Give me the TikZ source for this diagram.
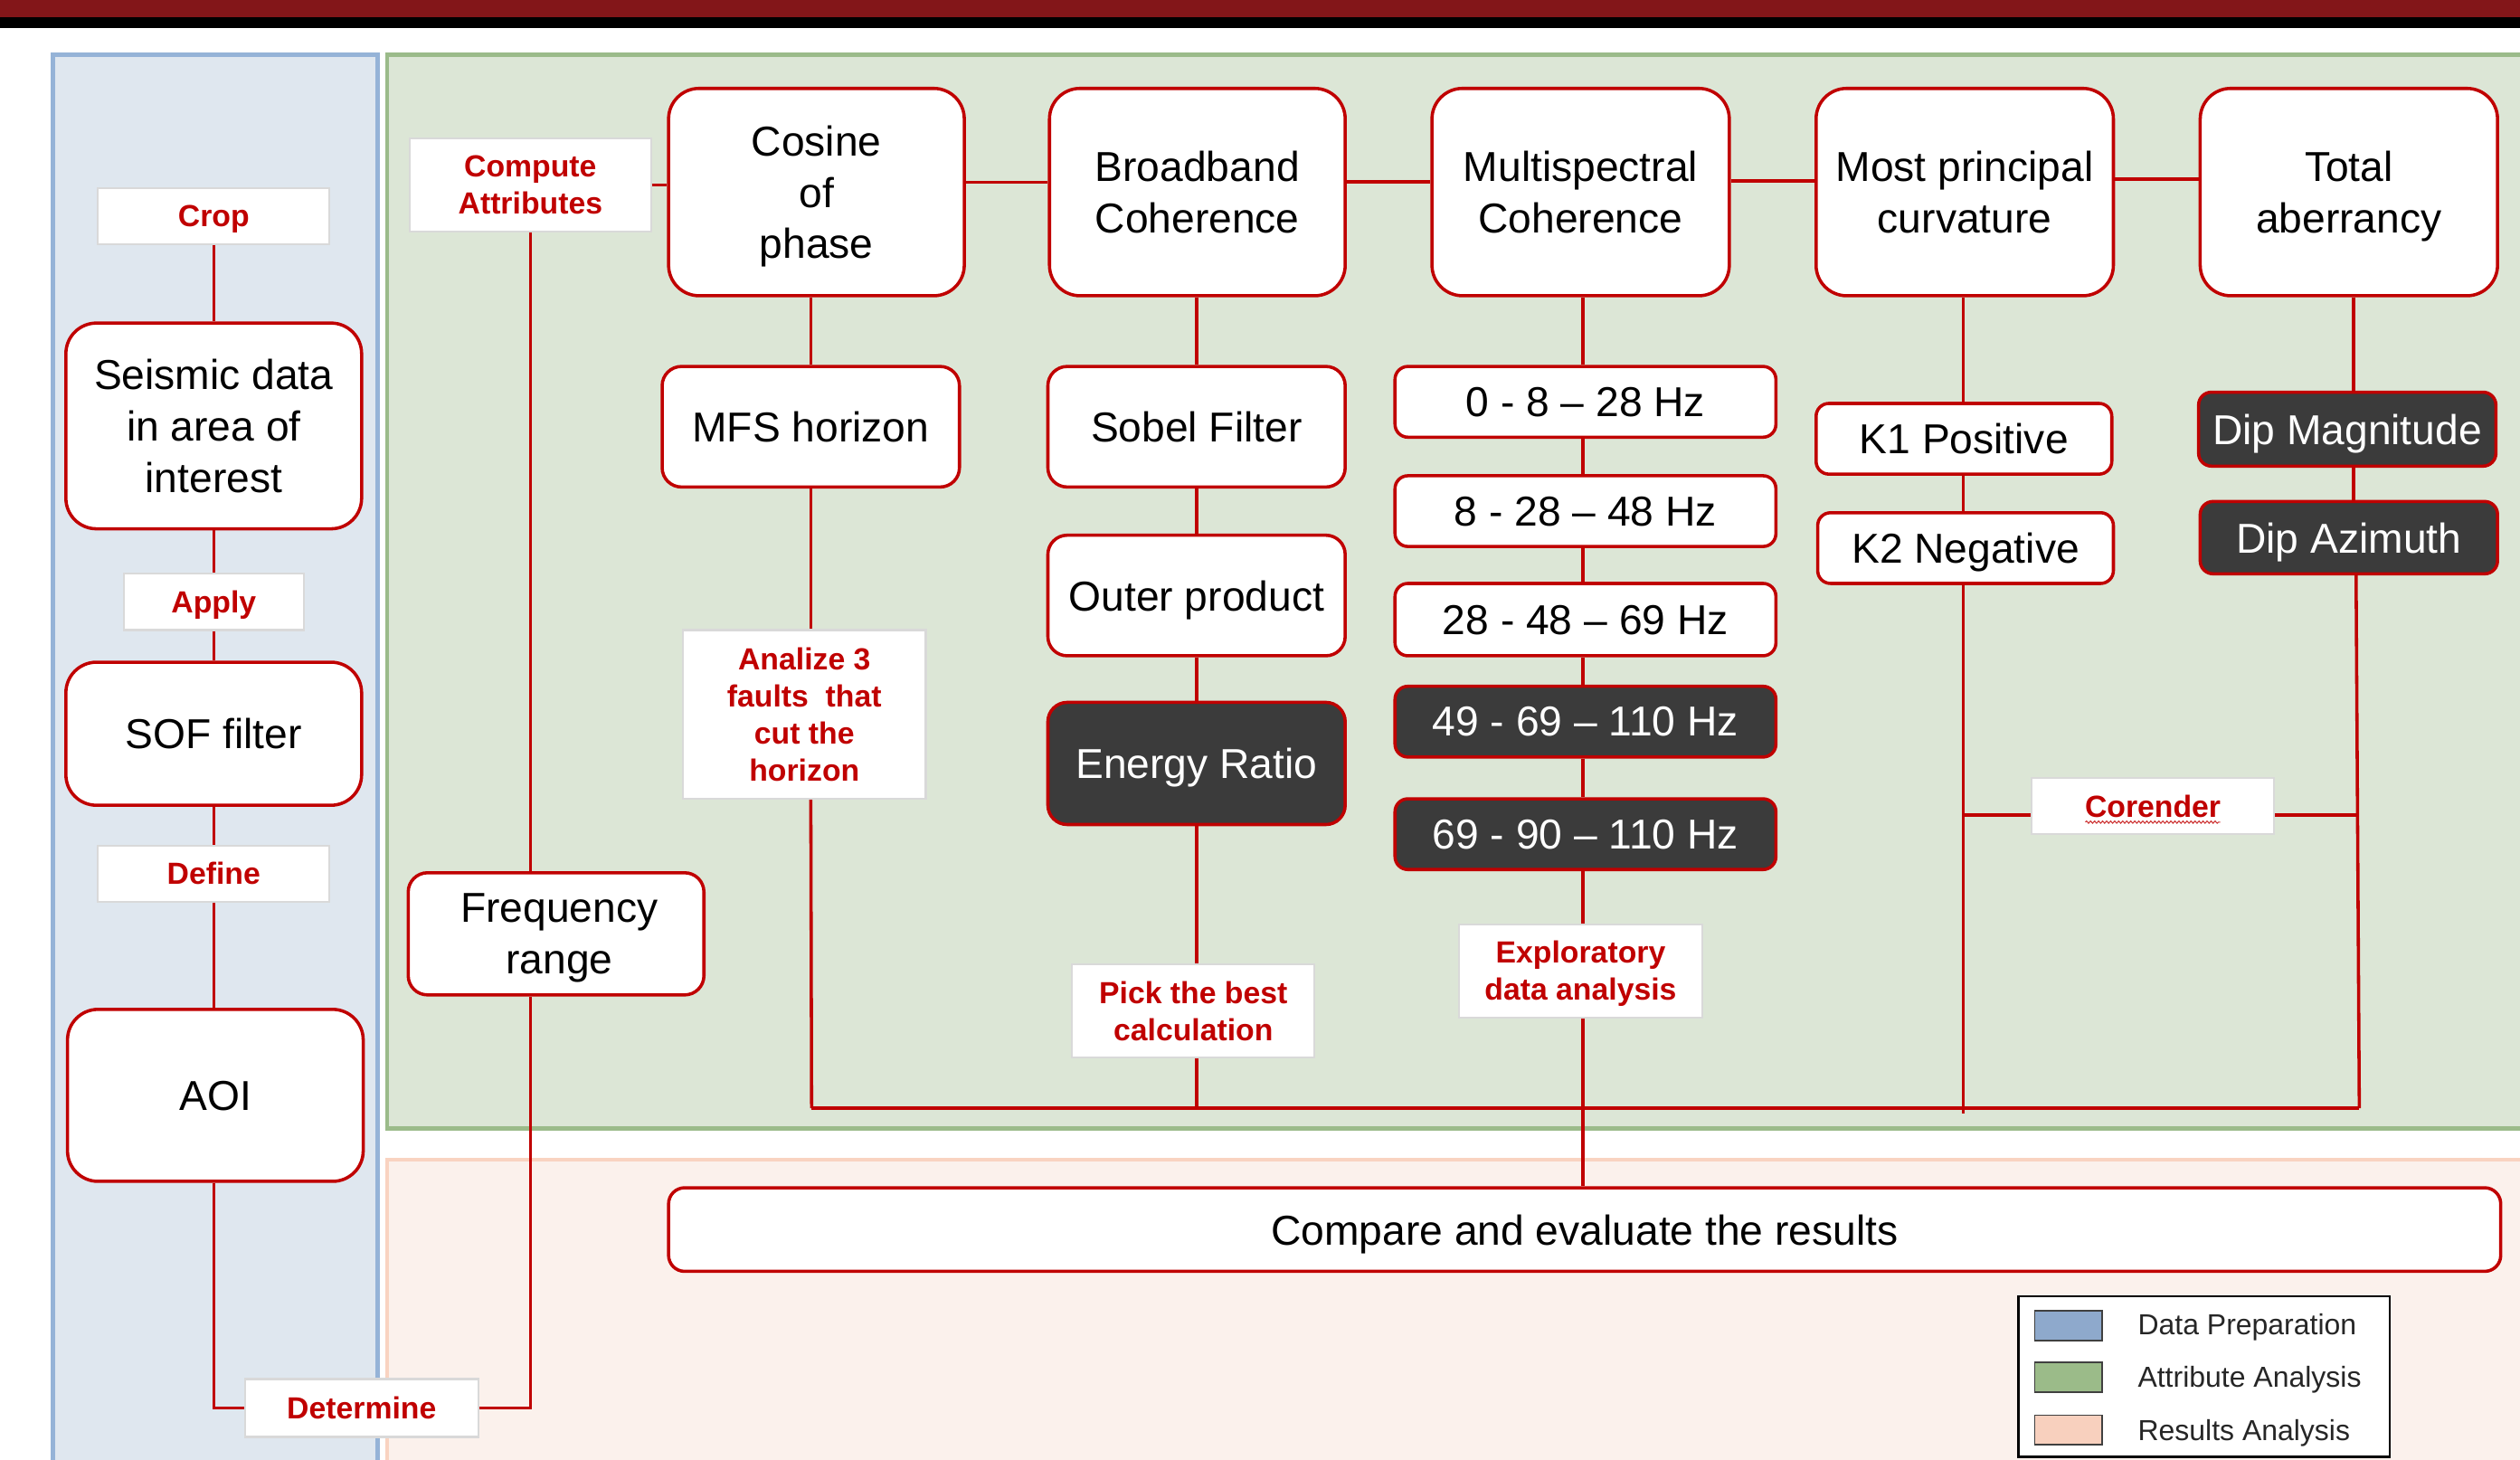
\documentclass[tikz,border=0pt]{standalone}
\usepackage{fontspec}
\setmainfont{Liberation Sans}
\usetikzlibrary{decorations.pathmorphing}
\definecolor{myred}{HTML}{C00000}
\definecolor{barred}{HTML}{831619}
\definecolor{bluebg}{HTML}{DFE7EF}
\definecolor{bluebd}{HTML}{95B3D7}
\definecolor{greenbg}{HTML}{DCE6D6}
\definecolor{greenbd}{HTML}{9BBB8A}
\definecolor{peachbg}{HTML}{FBF1EC}
\definecolor{peachbd}{HTML}{F9D3C1}
\definecolor{darkfill}{HTML}{3B3B3B}
\definecolor{lblbd}{HTML}{D9D9D9}
\definecolor{swblue}{HTML}{8EA9CC}
\definecolor{swgreen}{HTML}{9BBB89}
\definecolor{swpeach}{HTML}{F8D0BE}
\tikzset{
  bigbox/.style={draw=myred, line width=2pt, fill=white, rounded corners=19pt, align=center,
    inner sep=0pt, text depth=0pt, font=\fontsize{26}{32}\selectfont},
  midbox/.style={bigbox, rounded corners=12pt},
  smallbox/.style={bigbox, rounded corners=8pt},
  darkbox/.style={smallbox, fill=darkfill, text=white},
  lbl/.style={draw=lblbd, line width=1.2pt, fill=white, align=center, inner sep=0pt, text depth=0pt,
    text=myred, font=\fontsize{19}{23}\selectfont\bfseries},
  conn/.style={draw=myred, line width=2pt},
  legtext/.style={anchor=west, inner sep=0pt, text depth=0pt, text=black!85, font=\fontsize{18}{22}\selectfont},
  swatch/.style={draw=black!75, line width=1pt}
}
\begin{document}
\begin{tikzpicture}[x=1pt,y=-1pt]
\useasboundingbox (0,0) rectangle (1568,908);
\clip (0,0) rectangle (1568,908);
\fill[white] (0,0) rectangle (1568,908);
% top bars
\fill[barred] (0,0) rectangle (1568,10.7);
\fill[black] (0,10.7) rectangle (1568,17.4);
% panels
\draw[draw=bluebd, fill=bluebg, line width=2.5pt] (33,34) rectangle (235,930);
\draw[draw=greenbd, fill=greenbg, line width=2.5pt] (241,34) rectangle (1590,702);
\draw[draw=peachbd, fill=peachbg, line width=2.5pt] (241,721.5) rectangle (1590,930);

% left column
\node[lbl, minimum width=144pt, minimum height=35pt] (crop) at (133,134.5) {Crop};
\node[bigbox, minimum width=184pt, minimum height=128pt] (seis) at (133,265) {Seismic data\\in area of\\interest};
\node[lbl, minimum width=112pt, minimum height=35pt] (apply) at (133,374.5) {Apply};
\node[bigbox, minimum width=184pt, minimum height=89pt] (sof) at (133,456.5) {SOF filter};
\node[lbl, minimum width=144pt, minimum height=35pt] (define) at (133,543.5) {Define};
\node[bigbox, minimum width=184pt, minimum height=107pt] (aoi) at (134,681.5) {AOI};
\node[lbl, minimum width=145pt, minimum height=36pt] (det) at (225,876) {Determine};
\node[midbox, minimum width=184pt, minimum height=76pt] (freq) at (346,581) {\hspace*{4pt}Frequency\\\hspace*{4pt}range};
\node[lbl, minimum width=150pt, minimum height=58pt] (comp) at (330,115) {Compute\\Attributes};

% top row
\node[bigbox, minimum width=184pt, minimum height=129pt] (cos) at (508,119.5) {Cosine\\of\\phase};
\node[bigbox, minimum width=184pt, minimum height=129pt] (bb) at (745,119.5) {Broadband\\Coherence};
\node[bigbox, minimum width=185pt, minimum height=129pt] (ms) at (983.5,119.5) {Multispectral\\Coherence};
\node[bigbox, minimum width=185pt, minimum height=129pt] (mp) at (1222.5,119.5) {Most principal\\curvature};
\node[bigbox, minimum width=185pt, minimum height=129pt] (ta) at (1461.5,119.5) {Total\\aberrancy};

% cosine column
\node[midbox, minimum width=185pt, minimum height=75pt] (mfs) at (504.5,265.5) {MFS horizon};
\node[lbl, minimum width=151pt, minimum height=105pt] (analize) at (500.5,444.5) {Analize 3\\faults\ \ that\\cut the\\horizon};

% broadband column
\node[midbox, minimum width=185pt, minimum height=75pt] (sobel) at (744.5,265.5) {Sobel Filter};
\node[midbox, minimum width=185pt, minimum height=75pt] (outer) at (744.5,370.5) {Outer product};
\node[darkbox, rounded corners=12pt, minimum width=185pt, minimum height=76pt] (energy) at (744.5,475) {Energy Ratio};
\node[lbl, minimum width=151pt, minimum height=58pt] (pick) at (742.5,629) {Pick the best\\calculation};

% multispectral column
\node[smallbox, minimum width=237pt, minimum height=44pt] (f1) at (986.5,250) {0 - 8 -- 28 Hz};
\node[smallbox, minimum width=237pt, minimum height=44pt] (f2) at (986.5,318) {8 - 28 -- 48 Hz};
\node[smallbox, minimum width=237pt, minimum height=45pt] (f3) at (986.5,385.5) {28 - 48 -- 69 Hz};
\node[darkbox, minimum width=237pt, minimum height=44pt] (f4) at (986.5,449) {49 - 69 -- 110 Hz};
\node[darkbox, minimum width=237pt, minimum height=44pt] (f5) at (986.5,519) {69 - 90 -- 110 Hz};
\node[lbl, minimum width=151pt, minimum height=58pt] (expl) at (983.5,604) {Exploratory\\data analysis};

% curvature column
\node[smallbox, minimum width=184pt, minimum height=44pt] (k1) at (1222,273) {K1 Positive};
\node[smallbox, minimum width=184pt, minimum height=44pt] (k2) at (1223,341) {K2 Negative};
\node[lbl, minimum width=151pt, minimum height=35pt] (cor) at (1339.5,501.5) {Corender};
\draw[myred!80, line width=0.6pt, decorate, decoration={snake, amplitude=0.7pt, segment length=2.5pt}]
  ([xshift=-42pt, yshift=-10pt]cor.center) -- ([xshift=42pt, yshift=-10pt]cor.center);

% aberrancy column
\node[darkbox, minimum width=185pt, minimum height=46pt] (dipm) at (1460.5,267) {Dip Magnitude};
\node[darkbox, minimum width=185pt, minimum height=45pt] (dipa) at (1461.5,334.5) {Dip Azimuth};

% results
\node[smallbox, rounded corners=10pt, minimum width=1140pt, minimum height=52pt] (cmp) at (986,765) {Compare and evaluate the results};

\coordinate (bl) at (505,689.5);
\coordinate (br) at (1468,689.5);

% connectors - left column
\draw[conn] (crop.south) -- (seis.north);
\draw[conn] (seis.south) -- (apply.north);
\draw[conn] (apply.south) -- (sof.north);
\draw[conn] (sof.south) -- (define.north);
\draw[conn] (define.south) -- (define.south |- aoi.north);
\draw[conn] (aoi.south -| crop) |- (det.west);
\draw[conn] (det.east) -| (comp.south |- freq.south);
\draw[conn] (comp.south) -- (comp.south |- freq.north);
\draw[conn] (comp.east) -- (comp.east -| cos.west);

% top row links
\draw[conn] ([yshift=6pt]cos.east) -- ([yshift=6pt]bb.west);
\draw[conn] ([yshift=6.5pt]bb.east) -- ([yshift=6.5pt]ms.west);
\draw[conn] ([yshift=7pt]ms.east) -- ([yshift=7pt]mp.west);
\draw[conn] ([yshift=8pt]mp.east) -- ([yshift=8pt]ta.west);

% cosine column
\draw[conn] (mfs.north |- cos.south) -- (mfs.north);
\draw[conn] (mfs.south) -- (mfs.south |- analize.north);
\draw[conn] (analize.south -| mfs) -- (bl);

% broadband column
\draw[conn] (sobel.north |- bb.south) -- (sobel.north);
\draw[conn] (sobel.south) -- (outer.north);
\draw[conn] (outer.south) -- (energy.north);
\draw[conn] (energy.south) -- (energy.south |- pick.north);
\draw[conn] (pick.south -| energy) -- (energy |- bl);

% multispectral column
\draw[conn] (ms.south -| 985,0) -- (f1.north -| 985,0);
\draw[conn] (f1.south -| 985,0) -- (f2.north -| 985,0);
\draw[conn] (f2.south -| 985,0) -- (f3.north -| 985,0);
\draw[conn] (f3.south -| 985,0) -- (f4.north -| 985,0);
\draw[conn] (f4.south -| 985,0) -- (f5.north -| 985,0);
\draw[conn] (f5.south -| 985,0) -- (expl.north -| 985,0);
\draw[conn] (expl.south -| 985,0) -- (cmp.north -| 985,0);

% curvature column
\draw[conn] (mp.south -| 1221.5,0) -- (k1.north -| 1221.5,0);
\draw[conn] (k1.south -| 1221.5,0) -- (k2.north -| 1221.5,0);
\draw[conn] (k2.south -| 1221.5,0) -- (1221.5,693);
\draw[conn] (1221.5,507) -- (cor.west |- 0,507);
\draw[conn] (cor.east |- 0,507) -- (1467,507);

% aberrancy column
\draw[conn] (ta.south -| 1464.5,0) -- (dipm.north -| 1464.5,0);
\draw[conn] (dipm.south -| 1464.5,0) -- (dipa.north -| 1464.5,0);
\draw[conn] (dipa.south -| 1466,0) -- (br);

% bottom collector
\draw[conn] (bl) -- (br);

% legend
\draw[black, line width=1.5pt, fill=white] (1256,806.5) rectangle (1487,906.5);
\draw[swatch, fill=swblue] (1266,815.5) rectangle (1308,834);
\draw[swatch, fill=swgreen] (1266,847.5) rectangle (1308,866);
\draw[swatch, fill=swpeach] (1266,880.5) rectangle (1308,899);
\node[legtext] (l1) at (1330,824) {Data Preparation};
\node[legtext] (l2) at (1330,856.5) {Attribute Analysis};
\node[legtext] (l3) at (1330,890) {Results Analysis};
\end{tikzpicture}
\end{document}
